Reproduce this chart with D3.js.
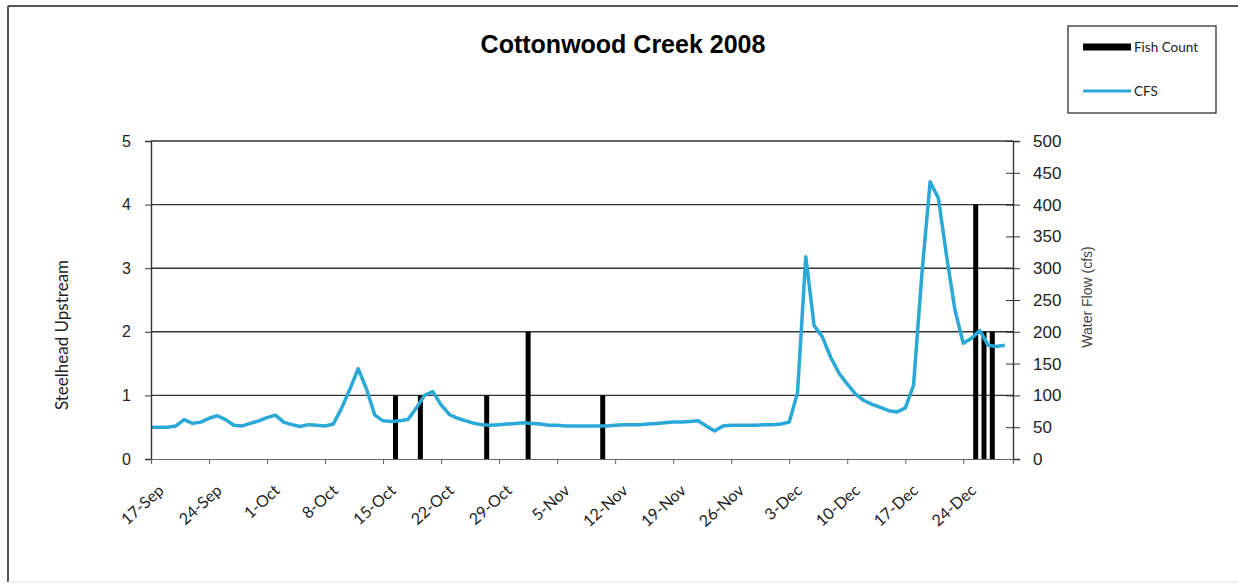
<!DOCTYPE html>
<html>
<head>
<meta charset="utf-8">
<script src="https://cdn.jsdelivr.net/npm/d3@7"></script>
<style>
  body { margin: 0; background: #fff; }
  svg { display: block; }
</style>
</head>
<body>
<div id="chart"></div>
<script>
// Daily water flow (cfs), one value per day starting 17-Sep-2008
const flowStart = "2008-09-17";
const flowCfs = [
  50, 50, 50, 52, 62, 56, 58, 64, 68, 62,   // 17-Sep .. 26-Sep
  53, 52, 56, 60, 65, 69, 58, 54, 51, 54,   // 27-Sep .. 6-Oct
  53, 52, 55, 80, 110, 142, 110, 69, 60, 59, // 7-Oct .. 16-Oct
  60, 62, 80, 100, 106, 85, 70, 64, 60, 56, // 17-Oct .. 26-Oct
  54, 53, 54, 55, 56, 57, 56, 55, 53, 53,   // 27-Oct .. 5-Nov
  52, 52, 52, 52, 52, 52, 53, 54, 54, 54,   // 6-Nov .. 15-Nov
  55, 56, 57, 58, 58, 59, 60, 52, 44, 52,   // 16-Nov .. 25-Nov
  53, 53, 53, 53, 54, 54, 55, 58, 104, 318, // 26-Nov .. 5-Dec
  210, 192, 160, 135, 118, 102, 92, 86, 81, 76, // 6-Dec .. 15-Dec
  74, 80, 116, 290, 436, 410, 318, 234, 182, 190, // 16-Dec .. 25-Dec
  202, 179, 177, 179                          // 26-Dec .. 29-Dec
];

// Steelhead counted upstream
const fishDates = ["2008-10-16", "2008-10-19", "2008-10-27", "2008-11-01", "2008-11-10",
                   "2008-12-25", "2008-12-26", "2008-12-27"];
const fishCounts = [1, 1, 1, 2, 1, 4, 2, 2];

const leftTicks = [0, 1, 2, 3, 4, 5];
const rightTicks = [0, 50, 100, 150, 200, 250, 300, 350, 400, 450, 500];

const W = 1238, H = 586;
const plot = { left: 151, right: 1013, top: 141, bottom: 459 };

const parse = d3.timeParse("%Y-%m-%d");
const day0 = parse(flowStart);
const flow = flowCfs.map((v, i) => ({ date: d3.timeDay.offset(day0, i), value: v }));
const fish = fishDates.map((d, i) => ({ date: parse(d), count: fishCounts[i] }));

const svg = d3.select("#chart").append("svg")
    .attr("width", W)
    .attr("height", H);

// outer chart frame
svg.append("line").attr("x1", 8).attr("y1", 6).attr("x2", W).attr("y2", 6)
    .attr("stroke", "#555").attr("stroke-width", 2);
svg.append("line").attr("x1", 8).attr("y1", 6).attr("x2", 8).attr("y2", 582)
    .attr("stroke", "#555").attr("stroke-width", 2);
svg.append("line").attr("x1", 8).attr("y1", 582).attr("x2", W).attr("y2", 582)
    .attr("stroke", "#ddd").attr("stroke-width", 1);

const x = d3.scaleTime()
    .domain([day0, parse("2008-12-30")])
    .range([plot.left, plot.right]);

const yLeft = d3.scaleLinear().domain([0, 5]).range([plot.bottom, plot.top]);
const yRight = d3.scaleLinear().domain([0, 500]).range([plot.bottom, plot.top]);

// horizontal gridlines
svg.append("g")
    .selectAll("line")
    .data(leftTicks.filter(d => d > 0))
    .enter().append("line")
    .attr("x1", plot.left).attr("x2", plot.right)
    .attr("y1", d => yLeft(d)).attr("y2", d => yLeft(d))
    .attr("stroke", "#333").attr("stroke-width", 1.4);

// fish count bars (drawn at mid-day)
const halfDay = (x(d3.timeDay.offset(day0, 1)) - x(day0)) / 2;
svg.append("g")
    .selectAll("rect")
    .data(fish)
    .enter().append("rect")
    .attr("x", d => x(d.date) + halfDay - 2.5)
    .attr("width", 5)
    .attr("y", d => yLeft(d.count))
    .attr("height", d => yLeft(0) - yLeft(d.count))
    .attr("fill", "#000");

// flow line
const line = d3.line()
    .x(d => x(d.date))
    .y(d => yRight(d.value));

svg.append("path")
    .datum(flow)
    .attr("d", line)
    .attr("fill", "none")
    .attr("stroke", "#2aa8d8")
    .attr("stroke-width", 3.5)
    .attr("stroke-linejoin", "round");

// left axis
const gLeft = svg.append("g")
    .attr("transform", `translate(${plot.left},0)`)
    .call(d3.axisLeft(yLeft).tickValues(leftTicks).tickFormat(d3.format("d")).tickSize(6).tickPadding(14));
gLeft.select(".domain").attr("stroke", "#333").attr("stroke-width", 1.4);
gLeft.selectAll(".tick line").attr("stroke", "#333");
gLeft.selectAll("text")
    .style("font-family", "'Liberation Sans', Arial, sans-serif")
    .style("font-size", "16px")
    .attr("fill", "#222");

// right axis, ticks cross the axis line
const gRight = svg.append("g")
    .attr("transform", `translate(${plot.right},0)`)
    .call(d3.axisRight(yRight).tickValues(rightTicks).tickSize(7).tickPadding(13));
gRight.select(".domain").attr("stroke", "#333").attr("stroke-width", 1.4);
gRight.selectAll(".tick line").attr("x1", -7).attr("stroke", "#333");
gRight.selectAll("text")
    .style("font-family", "'Liberation Sans Narrow', 'Liberation Sans', Arial, sans-serif")
    .style("font-size", "17px")
    .attr("fill", "#222");

// x axis, one tick per week
const weekTicks = d3.range(0, 99, 7).map(i => d3.timeDay.offset(day0, i));
const gx = svg.append("g")
    .attr("transform", `translate(0,${plot.bottom})`)
    .call(d3.axisBottom(x).tickValues(weekTicks).tickFormat(d3.timeFormat("%-d-%b")).tickSize(5));
gx.select(".domain").attr("stroke", "#666").attr("stroke-width", 1.2);
gx.selectAll(".tick line").attr("stroke", "#666");
gx.selectAll("text")
    .attr("text-anchor", "end")
    .attr("dy", 0)
    .attr("transform", "translate(8,27) rotate(-42)")
    .style("font-family", "Lato, 'Open Sans', sans-serif")
    .style("font-size", "16px")
    .attr("fill", "#222");

// title
svg.append("text")
    .attr("x", 623).attr("y", 53)
    .attr("text-anchor", "middle")
    .style("font-family", "'Liberation Sans', Arial, sans-serif")
    .style("font-weight", "bold")
    .style("font-size", "25px")
    .text("Cottonwood Creek 2008");

// axis titles
svg.append("text")
    .attr("transform", "translate(68,335) rotate(-90)")
    .attr("text-anchor", "middle")
    .style("font-family", "Lato, 'Open Sans', sans-serif")
    .style("font-size", "17px")
    .attr("fill", "#222")
    .text("Steelhead Upstream");

svg.append("text")
    .attr("transform", "translate(1092,297) rotate(-90)")
    .attr("text-anchor", "middle")
    .style("font-family", "'Liberation Sans', Arial, sans-serif")
    .style("font-size", "14px")
    .attr("fill", "#444")
    .text("Water Flow (cfs)");

// legend
const legend = svg.append("g");
legend.append("rect")
    .attr("x", 1068).attr("y", 26).attr("width", 148).attr("height", 87)
    .attr("fill", "#fff").attr("stroke", "#222").attr("stroke-width", 1.2);

const legendItems = [
  { label: "Fish Count", color: "#000", width: 7, y: 47 },
  { label: "CFS", color: "#2aa8d8", width: 3, y: 91 }
];
legendItems.forEach(item => {
    legend.append("line")
        .attr("x1", 1083).attr("x2", 1131)
        .attr("y1", item.y).attr("y2", item.y)
        .attr("stroke", item.color).attr("stroke-width", item.width);
    legend.append("text")
        .attr("x", 1134).attr("y", item.y)
        .attr("dy", "0.35em")
        .style("font-family", "Lato, 'Open Sans', sans-serif")
        .style("font-size", "13.5px")
        .attr("fill", "#222")
        .text(item.label);
});
</script>
</body>
</html>
